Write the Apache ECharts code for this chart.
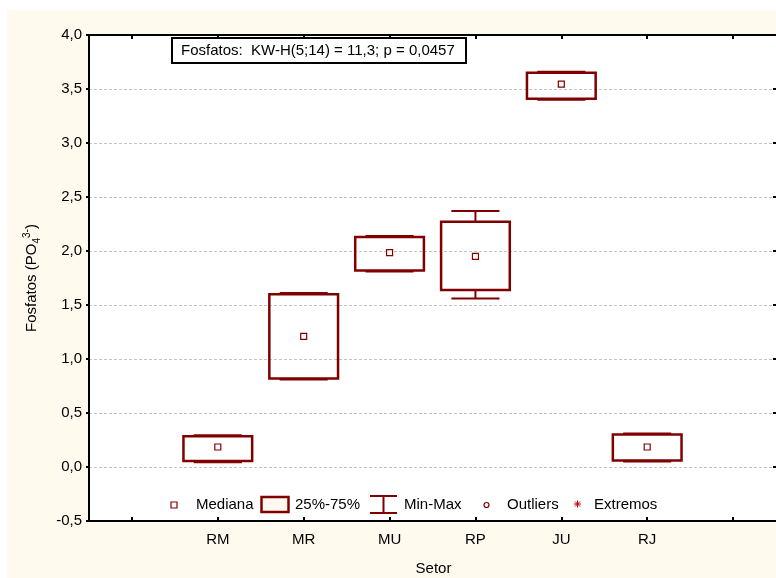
<!DOCTYPE html>
<html><head><meta charset="utf-8">
<script src="https://cdn.jsdelivr.net/npm/echarts@6/dist/echarts.min.js"></script>
<style>
html,body{margin:0;padding:0;background:#fff;}
#bg{position:absolute;left:7px;top:10px;width:769px;height:568px;background:#FFF9EE;}
#chart{position:absolute;left:0;top:0;width:776px;height:578px;}
</style></head><body>
<div id="bg"></div><div id="chart"></div>
<script>
// ---- data ----
const categories = ['RM', 'MR', 'MU', 'RP', 'JU', 'RJ'];
const minVals = [0.045, 0.81, 1.81, 1.56, 3.40, 0.05];
const q1Vals  = [0.055, 0.82, 1.82, 1.64, 3.41, 0.06];
const medVals = [0.185, 1.21, 1.985, 1.95, 3.545, 0.185];
const q3Vals  = [0.285, 1.60, 2.13, 2.27, 3.65, 0.30];
const maxVals = [0.295, 1.61, 2.14, 2.37, 3.66, 0.31];
const yMin = -0.5, yMax = 4.0, yStep = 0.5;
const titleText = 'Fosfatos:  KW-H(5;14) = 11,3; p = 0,0457';
const xTitle = 'Setor';
const legendLabels = ['Mediana', '25%-75%', 'Min-Max', 'Outliers', 'Extremos'];

// ---- chart ----
const FONT = '"Liberation Sans", Arial, sans-serif';
const RED = '#800000';
const axisCats = [''].concat(categories, ['']);
const seriesData = categories.map((c, i) => [i + 1, minVals[i], q1Vals[i], medVals[i], q3Vals[i], maxVals[i]]);

function renderItem(params, api) {
  const x = api.value(0);
  const pMin = api.coord([x, api.value(1)]);
  const pQ1 = api.coord([x, api.value(2)]);
  const pMed = api.coord([x, api.value(3)]);
  const pQ3 = api.coord([x, api.value(4)]);
  const pMax = api.coord([x, api.value(5)]);
  const band = api.size([1, 0])[0];
  const bw = band * 0.8, cw = band * 0.56;
  const cx = pMed[0];
  const ls = { stroke: RED, lineWidth: 2, fill: null };
  return {
    type: 'group',
    children: [
      { type: 'line', shape: { x1: cx, y1: pQ3[1], x2: cx, y2: pMax[1] }, style: ls },
      { type: 'line', shape: { x1: cx, y1: pQ1[1], x2: cx, y2: pMin[1] }, style: ls },
      { type: 'line', shape: { x1: cx - cw / 2, y1: pMax[1], x2: cx + cw / 2, y2: pMax[1] }, style: ls },
      { type: 'line', shape: { x1: cx - cw / 2, y1: pMin[1], x2: cx + cw / 2, y2: pMin[1] }, style: ls },
      { type: 'rect', shape: { x: cx - bw / 2, y: pQ3[1], width: bw, height: pQ1[1] - pQ3[1] },
        style: { fill: 'rgba(255,255,255,0)', stroke: RED, lineWidth: 2.5 } },
      { type: 'rect', shape: { x: cx - 3, y: pMed[1] - 3, width: 6, height: 6 },
        style: { fill: '#fff', stroke: RED, lineWidth: 1.2 } }
    ]
  };
}

const txt = (x, y, s, extra) => Object.assign({
  type: 'text', x: x, y: y, z: 100,
  style: { text: s, fill: '#000', font: '15px ' + FONT, align: 'left', verticalAlign: 'middle' }
}, extra || {});

const legendY = 505;
const graphics = [
  // title box
  { type: 'rect', z: 100, shape: { x: 172, y: 38, width: 294, height: 25 }, style: { fill: '#fff', stroke: '#000', lineWidth: 2 } },
  txt(181, 51, titleText),
  // y title
  { type: 'text', x: 32, y: 278, rotation: Math.PI / 2, z: 100,
    style: { text: '{m|Fosfatos (PO}{sub|4}{sup|3-}{m|)}', align: 'center', verticalAlign: 'middle',
      rich: {
        m: { fontSize: 15, fontFamily: FONT, fill: '#000', lineHeight: 20 },
        sub: { fontSize: 10, fontFamily: FONT, fill: '#000', lineHeight: 12, verticalAlign: 'bottom' },
        sup: { fontSize: 10, fontFamily: FONT, fill: '#000', lineHeight: 12, verticalAlign: 'top' }
      } } },
  // x title
  txt(433.5, 569, xTitle, { style: { text: xTitle, fill: '#000', font: '15px ' + FONT, align: 'center', verticalAlign: 'middle' } }),
  // legend
  { type: 'rect', z: 100, shape: { x: 171, y: legendY - 3, width: 6, height: 6 }, style: { fill: '#fff', stroke: RED, lineWidth: 1.2 } },
  txt(196, legendY, legendLabels[0]),
  { type: 'rect', z: 100, shape: { x: 261.5, y: 497, width: 27, height: 15 }, style: { fill: '#FFF8F0', stroke: RED, lineWidth: 2.5 } },
  txt(295, legendY, legendLabels[1]),
  { type: 'line', z: 100, shape: { x1: 370, y1: 496, x2: 397, y2: 496 }, style: { stroke: RED, lineWidth: 2 } },
  { type: 'line', z: 100, shape: { x1: 383.5, y1: 496, x2: 383.5, y2: 513 }, style: { stroke: RED, lineWidth: 2 } },
  { type: 'line', z: 100, shape: { x1: 370, y1: 513, x2: 397, y2: 513 }, style: { stroke: RED, lineWidth: 2 } },
  txt(404, legendY, legendLabels[2]),
  { type: 'circle', z: 100, shape: { cx: 486.5, cy: legendY, r: 2.5 }, style: { fill: '#fff', stroke: RED, lineWidth: 1.2 } },
  txt(507, legendY, legendLabels[3]),
  { type: 'line', z: 100, shape: { x1: 577.5, y1: 500.5, x2: 577.5, y2: 507.5 }, style: { stroke: '#C00000', lineWidth: 1 } },
  { type: 'line', z: 100, shape: { x1: 574, y1: 504, x2: 581, y2: 504 }, style: { stroke: '#C00000', lineWidth: 1 } },
  { type: 'line', z: 100, shape: { x1: 575, y1: 501.5, x2: 580, y2: 506.5 }, style: { stroke: '#C00000', lineWidth: 1 } },
  { type: 'line', z: 100, shape: { x1: 580, y1: 501.5, x2: 575, y2: 506.5 }, style: { stroke: '#C00000', lineWidth: 1 } },
  txt(594, legendY, legendLabels[4])
];

const fmt = v => v.toFixed(1).replace('.', ',');
const chart = echarts.init(document.getElementById('chart'), null, { renderer: 'canvas' });
chart.setOption({
  animation: false,
  textStyle: { fontFamily: FONT },
  grid: { left: 89, top: 35, right: -2, bottom: 57, show: true, backgroundColor: '#fff', borderWidth: 0, containLabel: false },
  xAxis: [
    { type: 'category', data: axisCats, position: 'bottom', boundaryGap: true,
      axisLine: { show: true, onZero: false, lineStyle: { color: '#000', width: 2 } },
      axisTick: { show: true, alignWithLabel: true, inside: true, length: 4, lineStyle: { color: '#000', width: 2 } },
      axisLabel: { color: '#000', fontSize: 15, fontFamily: FONT, margin: 11, interval: 0 },
      splitLine: { show: false } },
    { type: 'category', data: axisCats, position: 'top', boundaryGap: true,
      axisLine: { show: true, onZero: false, lineStyle: { color: '#000', width: 2 } },
      axisTick: { show: true, alignWithLabel: true, inside: true, length: 4, lineStyle: { color: '#000', width: 2 } },
      axisLabel: { show: false }, splitLine: { show: false } }
  ],
  yAxis: [
    { type: 'value', min: yMin, max: yMax, interval: yStep, position: 'left',
      axisLine: { show: true, onZero: false, lineStyle: { color: '#000', width: 2 } },
      axisTick: { show: true, inside: false, length: 3, lineStyle: { color: '#000', width: 2 } },
      axisLabel: { color: '#000', fontSize: 15, fontFamily: FONT, margin: 7, formatter: fmt },
      splitLine: { show: true, lineStyle: { color: '#c4c4c4', width: 1, type: [3, 2] } } },
    { type: 'value', min: yMin, max: yMax, interval: yStep, position: 'right',
      axisLine: { show: false, onZero: false, lineStyle: { color: '#000', width: 2 } },
      axisTick: { show: true, inside: true, length: 3, lineStyle: { color: '#000', width: 2 } },
      axisLabel: { show: false }, splitLine: { show: false } }
  ],
  series: [{
    type: 'custom', xAxisIndex: 0, yAxisIndex: 0, renderItem: renderItem,
    encode: { x: 0, y: [1, 2, 3, 4, 5] }, data: seriesData, z: 10
  }],
  graphic: graphics
});
</script>
</body></html>
